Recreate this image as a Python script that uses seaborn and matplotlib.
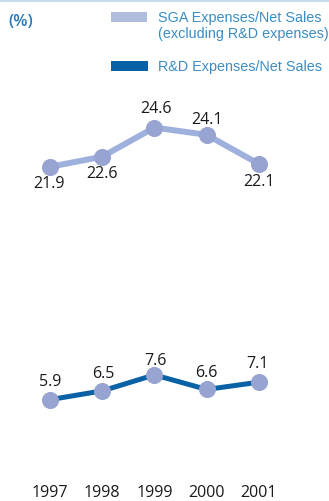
import matplotlib
matplotlib.use("Agg")
import matplotlib.pyplot as plt
import seaborn as sns
import pandas as pd
from matplotlib.patches import Rectangle

years = ["1997", "1998", "1999", "2000", "2001"]
sga = [21.9, 22.6, 24.6, 24.1, 22.1]
rnd = [5.9, 6.5, 7.6, 6.6, 7.1]
sga_label = "SGA Expenses/Net Sales\n(excluding R&D expenses)"
rnd_label = "R&D Expenses/Net Sales"

sga_color = "#9eb0dc"
rnd_color = "#0a62a6"
marker_color = "#97a3d0"
text_blue = "#3b8dc6"

sns.set_style("white")
plt.rcParams["font.family"] = ["Open Sans", "DejaVu Sans"]

df = pd.DataFrame({"idx": range(len(years)), "sga": sga, "rnd": rnd})

W, H = 329, 501
fig = plt.figure(figsize=(3.29, 5.01), dpi=100)
ax = fig.add_axes([25 / W, 1 - 475 / H, 260 / W, 385 / H])

sns.lineplot(data=df, x="idx", y="sga", ax=ax, color=sga_color, linewidth=4.3,
             marker="o", markersize=11.5, markerfacecolor=marker_color,
             markeredgecolor=marker_color, zorder=3)
sns.lineplot(data=df, x="idx", y="rnd", ax=ax, color=rnd_color, linewidth=3.6,
             marker="o", markersize=11.5, markerfacecolor=marker_color,
             markeredgecolor=marker_color, zorder=3)

# value labels (offsets in points)
sga_offsets = [(-1, -12.5), (0, -12.5), (1, 13), (0, 10.5), (0, -13)]
for i, v in enumerate(sga):
    dx, dy = sga_offsets[i]
    ax.annotate(f"{v:.1f}", (i, v), xytext=(dx, dy), textcoords="offset points",
                ha="center", va="center", fontsize=11.5, color="#1a1a1a")
rnd_offsets = [(0, 12.5), (0.5, 12.5), (0.5, 10), (0, 12), (-1, 13)]
for i, v in enumerate(rnd):
    dx, dy = rnd_offsets[i]
    ax.annotate(f"{v:.1f}", (i, v), xytext=(dx, dy), textcoords="offset points",
                ha="center", va="center", fontsize=11.5, color="#1a1a1a")

ax.set_xlim(-0.478, 4.5)
ax.set_ylim(0.72, 0.72 + 385 / 14.55)
ax.set_xticks(range(len(years)))
ax.set_xticklabels(years, fontsize=11.5, color="#1a1a1a")
ax.tick_params(axis="x", length=0, pad=7)
ax.set_yticks([])
ax.set_xlabel("")
ax.set_ylabel("")
for s in ax.spines.values():
    s.set_visible(False)

# top rule and unit label
fig.add_artist(plt.Line2D([0, 1], [0.998, 0.998], color="#c4dcec", linewidth=1.5))
fig.text(8 / W, 1 - 22 / H, "(%)", fontsize=12, color="#2a78b8",
         ha="left", va="center", fontweight="semibold")

# legend
leg_font = {"family": ["Liberation Sans", "DejaVu Sans"], "size": 10.4}
fig.add_artist(Rectangle((111 / W, 1 - 22 / H), 36 / W, 10 / H,
                         transform=fig.transFigure, facecolor="#b0bddd", edgecolor="none"))
fig.add_artist(Rectangle((111 / W, 1 - 71 / H), 37 / W, 10 / H,
                         transform=fig.transFigure, facecolor=rnd_color, edgecolor="none"))
fig.text(158 / W, 1 - 11 / H, sga_label, color=text_blue, ha="left", va="top",
         linespacing=1.15, fontdict=leg_font)
fig.text(158 / W, 1 - 67 / H, rnd_label, color=text_blue, ha="left", va="center",
         fontdict=leg_font)

fig.savefig("out.png", dpi=100)
